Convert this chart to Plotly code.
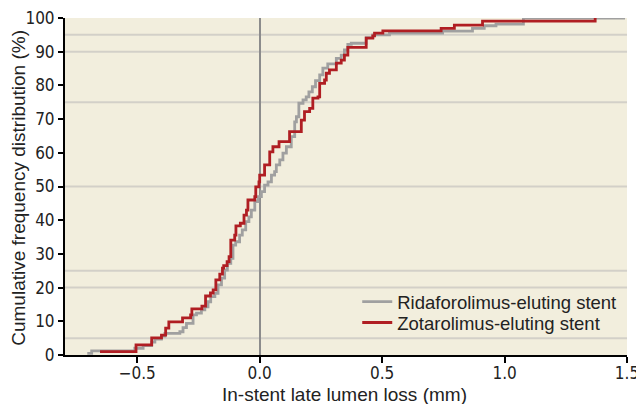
import plotly.graph_objects as go

# Step corners (late lumen loss in mm, cumulative %)
rida_x = [-0.704, -0.686, -0.510, -0.476, -0.441, -0.428, -0.401, -0.387, -0.326, -0.313,
          -0.299, -0.272, -0.258, -0.238, -0.224, -0.211, -0.200, -0.183, -0.170, -0.156,
          -0.143, -0.132, -0.118, -0.109, -0.098, -0.082, -0.071, -0.057, -0.044, -0.034,
          -0.020, -0.007, 0.007, 0.020, 0.034, 0.048, 0.061, 0.068, 0.082, 0.095,
          0.109, 0.129, 0.143, 0.150, 0.160, 0.177, 0.190, 0.201, 0.215, 0.228,
          0.245, 0.258, 0.278, 0.313, 0.333, 0.346, 0.360, 0.374, 0.435, 0.462,
          0.530, 0.747, 0.869, 0.917, 0.965, 1.077, 1.492]
rida_y = [0.5, 1.2, 2.0, 2.8, 3.8, 4.7, 5.6, 6.4, 6.9, 8.1,
          9.4, 11.9, 12.4, 13.4, 14.3, 15.8, 17.3, 18.3, 20.8, 22.8,
          25.2, 27.2, 28.7, 32.6, 33.6, 35.6, 37.1, 39.6, 41.0, 43.0,
          45.5, 47.0, 48.5, 50.4, 51.4, 53.4, 54.4, 56.4, 57.9, 59.9,
          61.8, 64.8, 69.2, 70.7, 74.7, 75.7, 76.6, 78.1, 79.6, 81.4,
          83.1, 85.1, 86.4, 88.0, 89.0, 90.5, 92.2, 92.5, 94.2, 95.0,
          95.5, 96.1, 96.9, 97.7, 98.2, 100.0, 100.0]

zota_x = [-0.652, -0.505, -0.441, -0.401, -0.384, -0.371, -0.315, -0.282, -0.277, -0.236,
          -0.221, -0.201, -0.190, -0.179, -0.163, -0.152, -0.147, -0.133, -0.125, -0.118,
          -0.102, -0.097, -0.079, -0.064, -0.054, -0.048, -0.020, -0.016, -0.003, 0.000,
          0.020, 0.041, 0.054, 0.079, 0.122, 0.170, 0.183, 0.204, 0.217, 0.238,
          0.245, 0.265, 0.272, 0.285, 0.313, 0.333, 0.346, 0.360, 0.435, 0.462,
          0.469, 0.503, 0.741, 0.795, 0.910, 1.370]
zota_y = [1.0, 3.0, 5.1, 5.9, 8.0, 9.8, 11.0, 11.9, 13.7, 14.5,
          17.5, 18.4, 19.3, 22.3, 24.0, 25.8, 26.5, 27.7, 29.2, 34.1,
          35.6, 38.3, 39.1, 41.5, 43.0, 46.0, 47.0, 49.9, 51.4, 53.4,
          56.4, 60.3, 61.8, 63.3, 66.3, 69.7, 72.2, 73.2, 76.2, 76.6,
          80.6, 81.6, 83.6, 84.6, 86.6, 87.5, 89.0, 91.3, 94.0, 94.7,
          95.5, 96.2, 96.9, 97.9, 99.1, 100.0]

series_names = ["Ridaforolimus-eluting stent", "Zotarolimus-eluting stent"]
grid_levels = [5, 20, 25, 50, 75, 90, 95]
x_ticks = [-0.5, 0.0, 0.5, 1.0, 1.5]
y_ticks = [0, 10, 20, 30, 40, 50, 60, 70, 80, 90, 100]
x_title = "In-stent late lumen loss (mm)"
y_title = "Cumulative frequency distribution (%)"

GRAY = "#a0a0a0"
RED = "#b01e23"
TICK_FONT = dict(family="Liberation Sans Narrow, DejaVu Sans Condensed, sans-serif", size=17, color="#222")
TEXT_FONT = dict(family="Liberation Sans, Arial, sans-serif", size=19, color="#222")
LEG_FONT = dict(family="Liberation Sans, Arial, sans-serif", size=18.5, color="#222")

fig = go.Figure()
fig.add_trace(go.Scatter(x=rida_x, y=rida_y, mode="lines", name=series_names[0],
                         line=dict(color=GRAY, width=2.8, shape="hv"), legend="legend"))
fig.add_trace(go.Scatter(x=zota_x, y=zota_y, mode="lines", name=series_names[1],
                         line=dict(color=RED, width=2.8, shape="hv"), legend="legend2"))

for g in grid_levels:
    fig.add_shape(type="line", xref="paper", x0=0, x1=1, yref="y", y0=g, y1=g,
                  line=dict(color="#d3d0c8", width=2), layer="below")

fig.add_annotation(text=x_title, xref="paper", yref="paper", x=0.498, y=-0.116,
                   xanchor="center", yanchor="middle", showarrow=False, font=TEXT_FONT)
fig.add_annotation(text=y_title, xref="paper", yref="paper", x=-0.082, y=0.496,
                   xanchor="center", yanchor="middle", showarrow=False, textangle=-90, font=TEXT_FONT)

leg_common = dict(xanchor="left", yanchor="middle", bgcolor="rgba(0,0,0,0)", font=LEG_FONT,
                  borderwidth=0, itemwidth=30)
fig.update_layout(
    width=636, height=404,
    margin=dict(l=65, r=9, t=18, b=49, autoexpand=False),
    paper_bgcolor="white",
    plot_bgcolor="#f2eedd",
    showlegend=True,
    legend=dict(x=0.52, y=0.157, **leg_common),
    legend2=dict(x=0.52, y=0.095, **leg_common),
)
fig.update_xaxes(range=[-0.795, 1.5], tickvals=x_ticks, tickformat=".1f", automargin=False,
                 showgrid=False, zeroline=True, zerolinecolor="#8c8c8c", zerolinewidth=1.5,
                 showline=True, linecolor="black", linewidth=2,
                 ticks="outside", ticklen=6, tickwidth=1.5, tickcolor="black",
                 ticklabelstandoff=-4, ticklabeloverflow="allow", tickfont=TICK_FONT)
fig.update_yaxes(range=[0, 100], tickvals=y_ticks, automargin=False,
                 showgrid=False, zeroline=False,
                 showline=True, linecolor="black", linewidth=2,
                 ticks="outside", ticklen=5, tickwidth=1.5, tickcolor="black",
                 ticklabeloverflow="allow", tickfont=TICK_FONT)

fig.write_html("out.html", config={"displayModeBar": False},
               post_script="document.body.style.margin='0';document.body.style.padding='0';")
